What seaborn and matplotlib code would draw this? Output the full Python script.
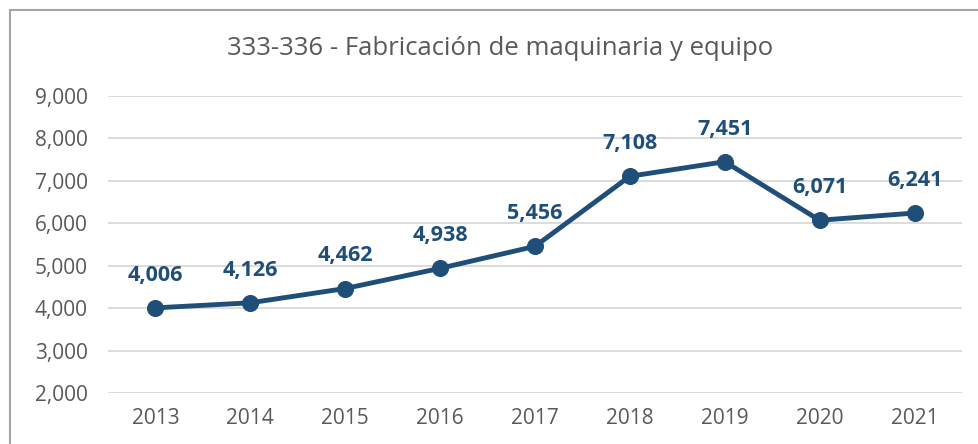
import matplotlib
matplotlib.use("Agg")
import matplotlib.pyplot as plt
from matplotlib.patches import Rectangle
import seaborn as sns
import pandas as pd

years = ["2013", "2014", "2015", "2016", "2017", "2018", "2019", "2020", "2021"]
values = [4006, 4126, 4462, 4938, 5456, 7108, 7451, 6071, 6241]
title = "333-336 - Fabricación de maquinaria y equipo"

LINE_COLOR = "#1F4E79"
TEXT_COLOR = "#595959"

sns.set_style("white")
plt.rcParams['font.family'] = ['Open Sans', 'DejaVu Sans']

df = pd.DataFrame({"year": years, "value": values})

fig = plt.figure(figsize=(9.79, 4.44), dpi=100)
ax = fig.add_axes([0.1103, 0.1149, 0.8723, 0.6689])

sns.lineplot(data=df, x="year", y="value", ax=ax, color=LINE_COLOR, linewidth=3.5,
             marker="o", markersize=11.5, markeredgecolor=LINE_COLOR, sort=False)

for i, v in enumerate(values):
    ax.annotate(f"{v:,}", (i, v), xytext=(0, 23.5), textcoords="offset points",
                ha="center", va="center", fontsize=15.5, fontweight="bold", color=LINE_COLOR)

ax.set_xlim(-0.5, len(years) - 0.5)
ax.set_ylim(2000, 9000)
ax.set_yticks(range(2000, 9001, 1000))
ax.set_yticklabels([f"{t:,}" for t in range(2000, 9001, 1000)])
ax.yaxis.grid(True, color="#D9D9D9", linewidth=1.3)
ax.set_axisbelow(True)
for s in ax.spines.values():
    s.set_visible(False)
ax.tick_params(axis="both", length=0, labelsize=15, labelcolor=TEXT_COLOR)
ax.tick_params(axis="y", pad=14.5)
ax.tick_params(axis="x", pad=11)
ax.set_xlabel("")
ax.set_ylabel("")

fig.text(0.511, 0.89, title, ha="center", va="center", fontsize=18.5, color=TEXT_COLOR)

# chart frame, cut off at right and bottom edges
fig.patches.append(Rectangle((10 / 979, -0.2), 1.2, 0.9775 + 0.2, transform=fig.transFigure,
                             fill=False, edgecolor="#A6A6A6", linewidth=1.5))

fig.savefig("out.png", dpi=100)
